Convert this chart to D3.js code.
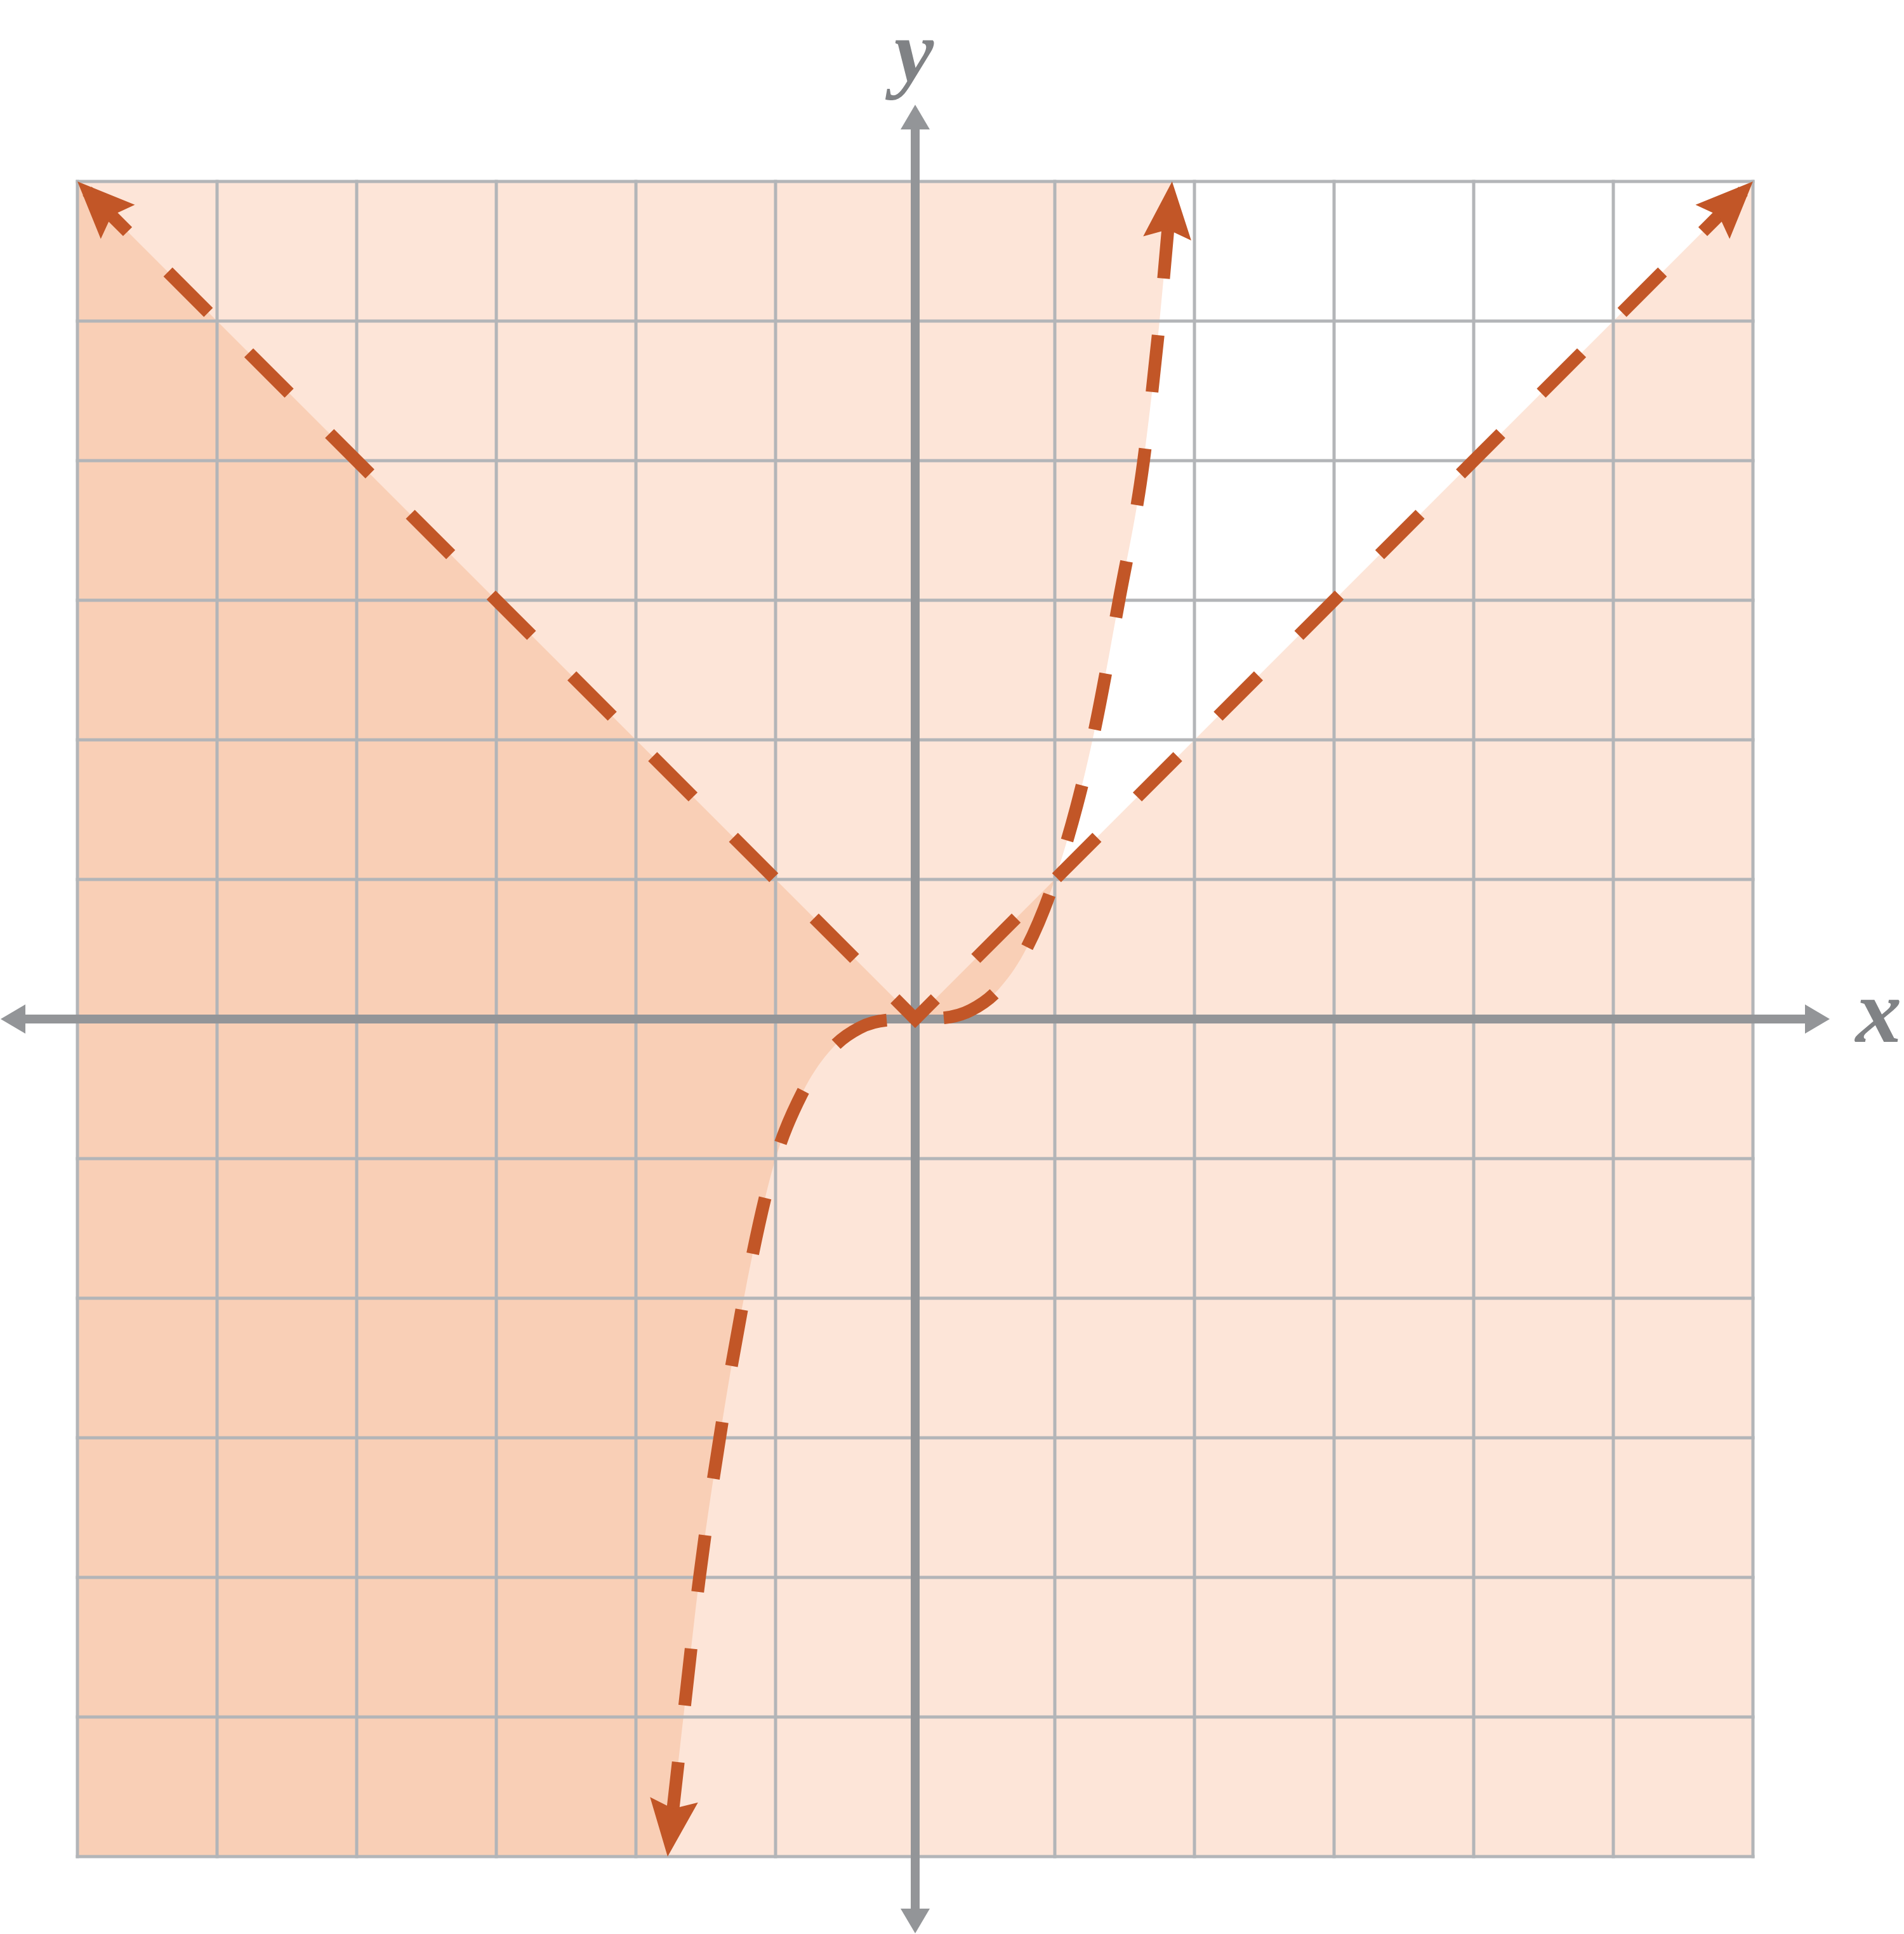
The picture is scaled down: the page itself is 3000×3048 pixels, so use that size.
<!doctype html>
<html lang="en">
<head>
<meta charset="utf-8">
<title>y > x^3 and y < |x|</title>
<script src="https://d3js.org/d3.v7.min.js"></script>
<style>
  html, body { margin: 0; padding: 0; background: #fff; }
  svg { display: block; }
</style>
</head>
<body>
<div class="chart-container"></div>
<script type="text/javascript">
// grid lines, one per unit
var gridTicks = [-6, -5, -4, -3, -2, -1, 0, 1, 2, 3, 4, 5, 6];

// boundary y = x^3
var cubicX = [-1.773, -1.66, -1.545, -1.40, -1.227, -1.0, -0.8, -0.6, -0.4, -0.2, 0, 0.2, 0.4, 0.6, 0.8, 1.0, 1.27, 1.46, 1.636, 1.75, 1.84];
var cubicY = [-6, -5, -4, -3, -2, -1, -0.512, -0.216, -0.064, -0.008, 0, 0.008, 0.064, 0.216, 0.512, 1, 2, 3, 4, 5, 6];

// boundary y = |x|
var absX = [-6, 0, 6];
var absY = [6, 0, 6];

var axisExtent = 6.55;

var W = 3000, H = 3048;
var lineColor = "#c25627",
    lightFill = "#fde5d8",
    darkFill = "#f9cfb6",
    gridColor = "#b3b5b8",
    axisColor = "#939598",
    labelColor = "#808285";

var x = d3.scaleLinear().domain([-6, 6]).range([122, 2762]);
var y = d3.scaleLinear().domain([-6, 6]).range([2926, 286]);

const svg = d3.select(".chart-container")
    .append("svg")
    .attr("width", W)
    .attr("height", H);

const defs = svg.append("defs");

// stealth arrow head for the dashed boundaries
defs.append("marker")
    .attr("id", "head")
    .attr("markerUnits", "userSpaceOnUse")
    .attr("viewBox", "-100 -50 110 100")
    .attr("markerWidth", 110)
    .attr("markerHeight", 100)
    .attr("refX", 0)
    .attr("refY", 0)
    .attr("orient", "auto-start-reverse")
    .append("path")
    .attr("d", "M0,0 L-90,-38 L-76,0 L-90,38 Z")
    .attr("fill", lineColor);

var cubicPts = cubicX.map((d, i) => [d, cubicY[i]]);
var absPts = absX.map((d, i) => [d, absY[i]]);

var line = d3.line().x(d => x(d[0])).y(d => y(d[1]));
var cubicLine = d3.line().x(d => x(d[0])).y(d => y(d[1])).curve(d3.curveMonotoneX);

// region above the cubic
var regionA = cubicLine(cubicPts) + "L" + x(-6) + "," + y(6) + "L" + x(-6) + "," + y(-6) + "Z";
// region below |x|
var regionB = line([[-6, 6], [0, 0], [6, 6], [6, -6], [-6, -6]]) + "Z";

defs.append("clipPath")
    .attr("id", "clipA")
    .append("path")
    .attr("d", regionA);

const gShade = svg.append("g");
gShade.append("path").attr("d", regionA).attr("fill", lightFill);
gShade.append("path").attr("d", regionB).attr("fill", lightFill);
gShade.append("path").attr("d", regionB).attr("fill", darkFill).attr("clip-path", "url(#clipA)");

// grid
const gGrid = svg.append("g")
    .attr("stroke", gridColor)
    .attr("stroke-width", 5);

gGrid.selectAll("line.v")
    .data(gridTicks)
    .enter()
    .append("line")
    .attr("class", "v")
    .attr("x1", d => x(d)).attr("x2", d => x(d))
    .attr("y1", y(6) - 2.5).attr("y2", y(-6) + 2.5);

gGrid.selectAll("line.h")
    .data(gridTicks)
    .enter()
    .append("line")
    .attr("class", "h")
    .attr("y1", d => y(d)).attr("y2", d => y(d))
    .attr("x1", x(-6) - 2.5).attr("x2", x(6) + 2.5);

// axes with arrow heads
const gAxis = svg.append("g");
var ah = 39, aw = 23;

gAxis.append("line")
    .attr("x1", x(-axisExtent) + ah).attr("x2", x(axisExtent) - ah)
    .attr("y1", y(0)).attr("y2", y(0))
    .attr("stroke", axisColor).attr("stroke-width", 14);

gAxis.append("line")
    .attr("y1", y(axisExtent) + ah).attr("y2", y(-axisExtent) - ah)
    .attr("x1", x(0)).attr("x2", x(0))
    .attr("stroke", axisColor).attr("stroke-width", 14);

var axisHeads = [
    {px: x(axisExtent), py: y(0), rot: 0},
    {px: x(-axisExtent), py: y(0), rot: 180},
    {px: x(0), py: y(axisExtent), rot: -90},
    {px: x(0), py: y(-axisExtent), rot: 90}
];

gAxis.selectAll("path")
    .data(axisHeads)
    .enter()
    .append("path")
    .attr("d", `M0,0 L${-ah},${-aw} L${-ah},${aw} Z`)
    .attr("fill", axisColor)
    .attr("transform", d => `translate(${d.px},${d.py}) rotate(${d.rot})`);

const labelFont = "'Liberation Serif', 'Times New Roman', serif";

svg.append("text")
    .attr("x", 2960).attr("y", 1642)
    .attr("text-anchor", "middle")
    .attr("font-family", labelFont)
    .attr("font-style", "italic")
    .attr("font-weight", "bold")
    .attr("font-size", 145)
    .attr("fill", labelColor)
    .text("x");

svg.append("text")
    .attr("x", 1440).attr("y", 128)
    .attr("text-anchor", "middle")
    .attr("font-family", labelFont)
    .attr("font-style", "italic")
    .attr("font-weight", "bold")
    .attr("font-size", 140)
    .attr("fill", labelColor)
    .text("y");

// dashed boundaries
const gCurves = svg.append("g")
    .attr("fill", "none")
    .attr("stroke", lineColor)
    .attr("stroke-width", 20)
    .attr("stroke-linejoin", "miter")
    .attr("stroke-miterlimit", 10);

// dash 90 / gap 90; `phase` is where the origin falls inside the 180px period
function addDashed(d, phase) {
    var p = gCurves.append("path")
        .attr("d", d)
        .attr("marker-start", "url(#head)")
        .attr("marker-end", "url(#head)");
    var node = p.node();
    var L = node.getTotalLength();
    // find path length at the origin (x is monotonic along both paths)
    var lo = 0, hi = L, ox = x(0);
    for (var i = 0; i < 40; i++) {
        var mid = (lo + hi) / 2;
        if (node.getPointAtLength(mid).x < ox) lo = mid; else hi = mid;
    }
    var s0 = (lo + hi) / 2;
    var off = ((phase - s0) % 180 + 180) % 180;
    p.attr("stroke-dasharray", "90,90")
     .attr("stroke-dashoffset", off);
}

addDashed(line(absPts), 45);          // dash centred on the vertex
addDashed(cubicLine(cubicPts), 135);  // gap centred on the origin
</script>
</body>
</html>
